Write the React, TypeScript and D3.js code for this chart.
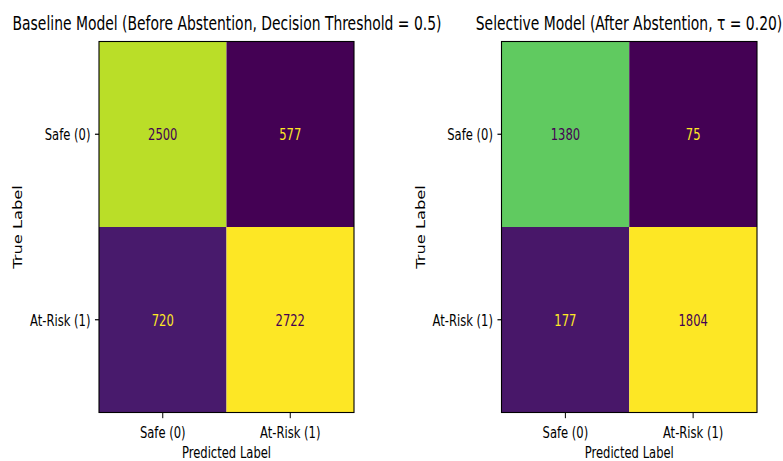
import React from "react";
import * as d3 from "d3";

const classLabels = ["Safe (0)", "At-Risk (1)"];
const baselineMatrix = [
  [2500, 577],
  [720, 2722],
];
const selectiveMatrix = [
  [1380, 75],
  [177, 1804],
];
const panelTitles = [
  "Baseline Model (Before Abstention, Decision Threshold = 0.5)",
  "Selective Model (After Abstention, \u03c4 = 0.20)",
];
const xAxisLabel = "Predicted Label";
const yAxisLabel = "True Label";

const W = 783;
const H = 461;
const SX = 0.71; // horizontal squeeze of the rendered figure
const FONT = "'DejaVu Sans', sans-serif";
const TICK_FS = 16.3;
const TITLE_FS = 19.6;

type PanelProps = {
  matrix: number[][];
  title: string;
  x0: number;
  x1: number;
  y0: number;
  y1: number;
  titleCx: number;
};

function Panel({ matrix, title, x0, x1, y0, y1, titleCx }: PanelProps) {
  const xs = d3.scaleBand<string>().domain(classLabels).range([x0, x1]).padding(0);
  const ys = d3.scaleBand<string>().domain(classLabels).range([y0, y1]).padding(0);
  const flat = matrix.flat();
  const vmin = d3.min(flat) as number;
  const vmax = d3.max(flat) as number;
  const color = d3.scaleSequential(d3.interpolateViridis).domain([vmin, vmax]);
  const thresh = (vmin + vmax) / 2;
  const cells: { r: number; c: number; v: number }[] = [];
  matrix.forEach((row, r) => row.forEach((v, c) => cells.push({ r, c, v })));
  const tickLen = 5.7;
  return (
    <g>
      {cells.map((d) => (
        <rect
          key={`r${d.r}${d.c}`}
          x={xs(classLabels[d.c])}
          y={ys(classLabels[d.r])}
          width={xs.bandwidth()}
          height={ys.bandwidth()}
          fill={color(d.v)}
        />
      ))}
      {cells.map((d) => (
        <text
          key={`t${d.r}${d.c}`}
          transform={`translate(${(xs(classLabels[d.c]) as number) + xs.bandwidth() / 2},${
            (ys(classLabels[d.r]) as number) + ys.bandwidth() / 2
          }) scale(${SX},1)`}
          textAnchor="middle"
          dominantBaseline="central"
          fontFamily={FONT}
          fontSize={TICK_FS}
          fill={d.v < thresh ? d3.interpolateViridis(1) : d3.interpolateViridis(0)}
        >
          {d.v}
        </text>
      ))}
      <rect x={x0} y={y0} width={x1 - x0} height={y1 - y0} fill="none" stroke="#000" strokeWidth={1.1} />
      {classLabels.map((lab) => {
        const cx = (xs(lab) as number) + xs.bandwidth() / 2;
        return (
          <g key={`xt${lab}`}>
            <line x1={cx} x2={cx} y1={y1} y2={y1 + tickLen} stroke="#000" strokeWidth={1} />
            <text
              transform={`translate(${cx},${y1 + tickLen + 20.2}) scale(${SX},1)`}
              textAnchor="middle"
              fontFamily={FONT}
              fontSize={TICK_FS}
              fill="#000"
            >
              {lab}
            </text>
          </g>
        );
      })}
      {classLabels.map((lab) => {
        const cy = (ys(lab) as number) + ys.bandwidth() / 2;
        return (
          <g key={`yt${lab}`}>
            <line x1={x0 - tickLen * SX} x2={x0} y1={cy} y2={cy} stroke="#000" strokeWidth={1.2} />
            <text
              transform={`translate(${x0 - tickLen * SX - 4.5},${cy}) scale(${SX},1)`}
              textAnchor="end"
              dominantBaseline="central"
              fontFamily={FONT}
              fontSize={TICK_FS}
              fill="#000"
            >
              {lab}
            </text>
          </g>
        );
      })}
      <text
        transform={`translate(${(x0 + x1) / 2},${457.5}) scale(${SX},1)`}
        textAnchor="middle"
        fontFamily={FONT}
        fontSize={TICK_FS}
        fill="#000"
      >
        {xAxisLabel}
      </text>
      <text
        transform={`translate(${x0 - 77},${(y0 + y1) / 2}) rotate(-90) scale(1,${SX})`}
        textAnchor="middle"
        fontFamily={FONT}
        fontSize={TICK_FS}
        fill="#000"
      >
        {yAxisLabel}
      </text>
      <text
        transform={`translate(${titleCx},${29.5}) scale(${SX},1)`}
        textAnchor="middle"
        fontFamily={FONT}
        fontSize={TITLE_FS}
        fill="#000"
      >
        {title}
      </text>
    </g>
  );
}

export default function App() {
  return (
    <svg
      width={W}
      height={H}
      viewBox={`0 0 ${W} ${H}`}
      style={{ position: "absolute", left: 0, top: 0, background: "#fff" }}
    >
      <rect x={0} y={0} width={W} height={H} fill="#fff" />
      <Panel matrix={baselineMatrix} title={panelTitles[0]} x0={99} x1={354} y0={41.5} y1={412.5} titleCx={227} />
      <Panel matrix={selectiveMatrix} title={panelTitles[1]} x0={501.5} x1={757} y0={41.5} y1={412.5} titleCx={629} />
    </svg>
  );
}
